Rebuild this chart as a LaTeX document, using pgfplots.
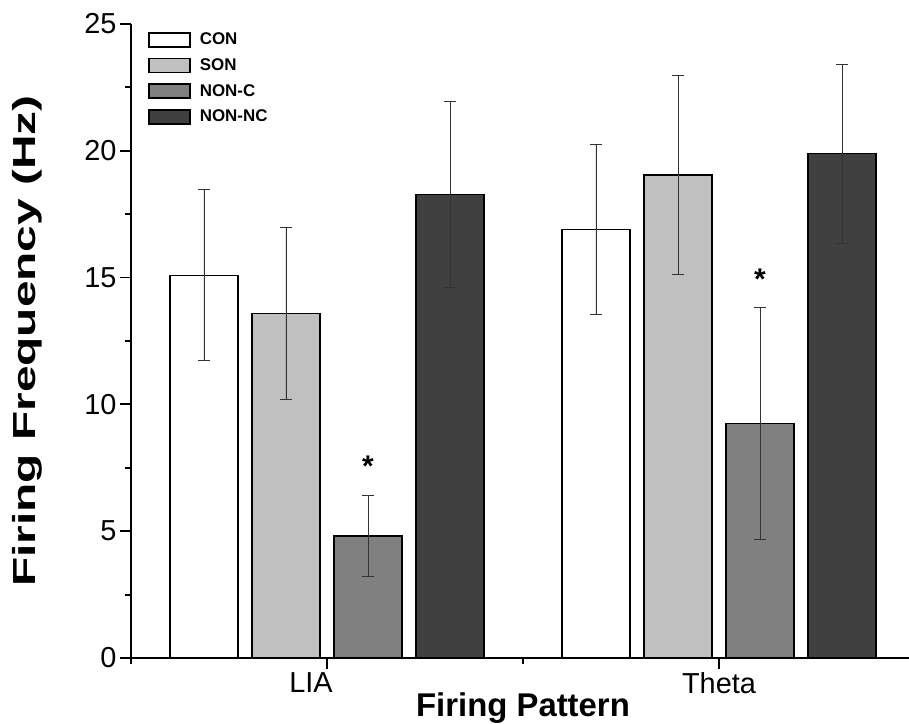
\documentclass[border=0pt]{standalone}
\usepackage{fontspec}
\setmainfont{Liberation Sans}
\usepackage{graphicx}
\usepackage{pgfplots}
\pgfplotsset{compat=1.18}
\usepackage{pgfplotstable}

\definecolor{sonC}{HTML}{C0C0C0}
\definecolor{noncC}{HTML}{808080}
\definecolor{nonncC}{HTML}{404040}

% x: 0 = LIA, 1 = Theta; y: mean firing frequency, e: error
\pgfplotstableread{
x y e
0 15.09 3.37
1 16.90 3.36
}\tcon
\pgfplotstableread{
x y e
0 13.58 3.39
1 19.05 3.93
}\tson
\pgfplotstableread{
x y e
0 4.81 1.59
1 9.24 4.58
}\tnonc
\pgfplotstableread{
x y e
0 18.28 3.68
1 19.89 3.53
}\tnonnc

% offset of each group member from its category centre (axis units)
\def\offA{-0.3138}
\def\offB{-0.1046}
\def\offC{0.1046}
\def\offD{0.3138}

\begin{document}
\begin{tikzpicture}
\begin{axis}[
  at={(0,0)}, anchor=south west,
  scale only axis, width=784bp, height=634bp,
  xmin=-0.5, xmax=1.5, ymin=0, ymax=25,
  axis x line*=bottom, axis y line*=left,
  axis line style={line width=1.8bp, black},
  tick align=outside,
  major tick length=11bp, minor tick length=6bp,
  tick style={line width=1.8bp, black},
  xtick={0,1}, xticklabels={\hspace*{-32bp}LIA,Theta},
  minor xtick={-0.5,0.5,1.5},
  ytick={0,5,...,25}, minor ytick={2.5,7.5,...,22.5},
  tick label style={font=\fontsize{29}{31}\selectfont},
  /pgf/number format/assume math mode=true,
  xlabel={Firing Pattern},
  xlabel style={font=\bfseries\fontsize{33}{35}\selectfont,
    at={(axis description cs:0.5,-0.0915)}, anchor=base},
  ylabel={\scalebox{1.5}[1]{Firing Frequency (Hz)}},
  ylabel style={font=\bfseries\fontsize{32}{34}\selectfont,
    at={(axis description cs:-0.1327,0.5)}, anchor=center},
  legend image code/.code={\draw[#1, line width=1.6bp] (0bp,-7bp) rectangle (41bp,7bp);},
  legend cell align=left,
  legend style={at={(axis description cs:0.0217,0.9874)}, anchor=north west,
    draw=none, fill=none, inner sep=0pt, row sep=10bp, column sep=9bp,
    font=\bfseries\fontsize{17}{17}\selectfont,
    nodes={inner sep=0pt, text height=12bp, text depth=2bp}},
  barstyle/.style={ybar, bar width=68bp, bar shift=0pt, draw=black, line width=1.6bp,
    error bars/y dir=both, error bars/y explicit,
    error bars/error bar style={line width=0.9bp, black!80},
    error bars/error mark options={rotate=90, mark size=6bp, line width=0.9bp, black!80}},
]
\addplot[barstyle, fill=white]
  table[x expr=\thisrow{x}+\offA, y=y, y error=e] {\tcon};
\addplot[barstyle, fill=sonC]
  table[x expr=\thisrow{x}+\offB, y=y, y error=e] {\tson};
\addplot[barstyle, fill=noncC]
  table[x expr=\thisrow{x}+\offC, y=y, y error=e] {\tnonc};
\addplot[barstyle, fill=nonncC]
  table[x expr=\thisrow{x}+\offD, y=y, y error=e] {\tnonnc};
\legend{CON,SON,NON-C,NON-NC}

% significance markers above the NON-C bars
\node[font=\bfseries\fontsize{30}{30}\selectfont, inner sep=0pt, anchor=north]
  at (axis cs:\offC,7.96) {*};
\node[font=\bfseries\fontsize{30}{30}\selectfont, inner sep=0pt, anchor=north]
  at (axis cs:1+\offC,15.34) {*};
\end{axis}
\pgfresetboundingbox
\path[use as bounding box] (-131bp,-66bp) rectangle (778bp,658bp);
\end{tikzpicture}
\end{document}
